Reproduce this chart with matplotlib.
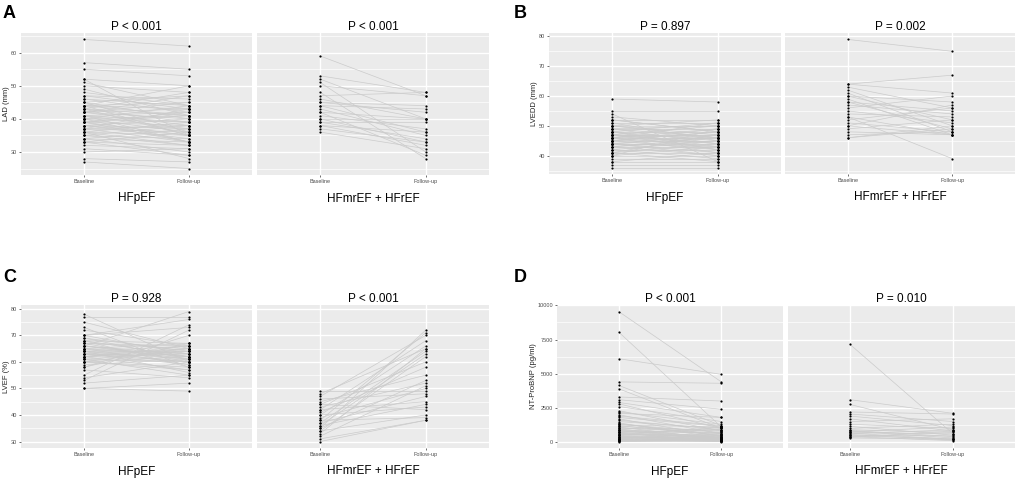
import numpy as np
import matplotlib.pyplot as plt

plt.rcParams['font.family'] = ['Liberation Sans', 'DejaVu Sans']

# ---- data ----
groups = ["HFpEF", "HFmrEF + HFrEF"]
timepoints = ["Baseline", "Follow-up"]

# A: LAD (mm)
lad_pef_base = [64, 57, 55, 52, 51, 50, 49, 47, 46, 45, 44, 44, 43, 43, 42, 42, 42, 41, 41, 40,
                40, 40, 39, 39, 39, 38, 38, 38, 37, 37, 37, 36, 36, 35, 35, 34, 34, 33, 33, 32,
                31, 30, 28, 27, 45, 44, 43, 42, 41, 40, 39, 38, 37, 36, 35, 34, 45, 46, 48, 44,
                43, 41, 40, 39, 42, 44, 36, 33, 47, 52]
lad_pef_follow = [62, 55, 53, 50, 44, 48, 41, 46, 42, 40, 50, 43, 39, 41, 38, 45, 40, 37, 42, 39,
                  36, 44, 38, 35, 41, 37, 34, 40, 36, 33, 43, 35, 32, 34, 38, 33, 30, 32, 36, 31,
                  29, 31, 27, 25, 47, 45, 48, 43, 39, 41, 42, 35, 38, 39, 32, 37, 36, 44, 44, 35,
                  35, 33, 33, 33, 47, 41, 28, 29, 43, 35]
lad_ref_base = [59, 53, 52, 51, 50, 47, 46, 45, 44, 44, 43, 42, 41, 40, 40, 39, 39, 38, 38, 37,
                36, 48, 42, 45]
lad_ref_follow = [47, 48, 40, 30, 47, 48, 40, 44, 43, 36, 35, 40, 37, 40, 33, 39, 34, 32, 36, 33,
                  31, 28, 29, 42]

# B: LVEDD (mm)
lvedd_pef_base = [59, 55, 54, 52, 52, 51, 51, 50, 50, 50, 49, 49, 49, 48, 48, 48, 48, 47, 47, 47,
                  47, 46, 46, 46, 46, 46, 45, 45, 45, 45, 44, 44, 44, 44, 43, 43, 43, 42, 42, 42,
                  41, 41, 41, 40, 40, 39, 38, 38, 37, 36, 53, 52, 50, 49, 47, 46, 45, 44, 43, 41,
                  40, 48, 47, 45, 44]
lvedd_pef_follow = [58, 55, 38, 52, 48, 51, 45, 50, 47, 52, 49, 44, 46, 48, 51, 45, 42, 47, 50, 44,
                    46, 46, 49, 43, 41, 47, 45, 48, 42, 46, 44, 47, 41, 43, 43, 46, 40, 42, 45, 39,
                    41, 44, 38, 40, 43, 39, 38, 41, 37, 36, 50, 48, 46, 50, 42, 51, 49, 40, 45, 47,
                    49, 43, 44, 48, 46]
lvedd_ref_base = [79, 64, 64, 63, 62, 61, 60, 60, 59, 58, 58, 57, 56, 55, 54, 53, 53, 52, 51, 50,
                  50, 49, 48, 47, 46, 46]
lvedd_ref_follow = [75, 67, 61, 56, 50, 48, 52, 58, 47, 55, 49, 54, 60, 51, 53, 47, 39, 56, 48, 47,
                    57, 52, 47, 48, 50, 49]

# C: LVEF (%)
lvef_pef_base = [78, 77, 75, 73, 72, 70, 70, 69, 68, 68, 67, 67, 66, 66, 66, 65, 65, 65, 64, 64,
                 64, 64, 63, 63, 63, 62, 62, 62, 61, 61, 61, 60, 60, 60, 59, 58, 57, 55, 54, 53,
                 52, 50, 50, 69, 67, 65, 63, 62, 60, 58, 66, 64, 62, 68, 70]
lvef_pef_follow = [60, 77, 65, 58, 66, 63, 76, 64, 62, 67, 60, 65, 79, 63, 61, 67, 62, 59, 66, 64,
                   61, 56, 65, 62, 60, 66, 63, 57, 64, 60, 55, 65, 62, 58, 61, 67, 54, 74, 60, 72,
                   55, 49, 52, 61, 66, 63, 59, 64, 57, 70, 62, 60, 65, 58, 73]
lvef_ref_base = [49, 48, 47, 46, 45, 44, 44, 43, 42, 42, 41, 40, 40, 39, 38, 38, 37, 37, 36, 36,
                 35, 35, 34, 34, 33, 32, 31, 30]
lvef_ref_follow = [49, 65, 70, 48, 55, 60, 42, 52, 68, 45, 58, 66, 43, 50, 71, 39, 64, 47, 63, 44,
                   72, 53, 62, 40, 65, 51, 38, 38]

# D: NT-ProBNP (pg/ml)
bnp_pef_base = [9550, 8050, 6100, 4400, 4150, 3900, 3300, 3100, 2900, 2800, 2600, 2300, 2100, 2000,
                1900, 1700, 1600, 1500, 1400, 1300, 1200, 1100, 1000, 950, 900, 850, 800, 750, 700,
                650, 600, 550, 500, 450, 400, 350, 300, 250, 200, 150, 100, 80, 1800, 1250, 1050,
                700, 500, 300, 200, 120, 1350, 1150, 900, 600, 400, 250, 180, 60, 40, 2200]
bnp_pef_follow = [4400, 1100, 4950, 4300, 1200, 1000, 3000, 2400, 1800, 1000, 1500, 800, 1800, 600,
                  1200, 400, 900, 1000, 300, 700, 500, 200, 900, 300, 600, 150, 400, 700, 250, 100,
                  500, 350, 200, 100, 300, 150, 250, 100, 180, 80, 120, 60, 1150, 1100, 650, 900,
                  1100, 600, 450, 300, 450, 800, 200, 350, 120, 500, 40, 200, 100, 1300]
bnp_ref_base = [7150, 3100, 2750, 2200, 2050, 1900, 1700, 1500, 1300, 1150, 1000, 900, 850, 800,
                750, 700, 650, 600, 550, 500, 450, 400, 350, 300]
bnp_ref_follow = [600, 2100, 900, 2050, 1500, 1200, 800, 1700, 1000, 500, 1300, 700, 400, 300,
                  1100, 600, 200, 900, 150, 450, 250, 100, 800, 200]

# ---- figure ----
W, H = 1021, 479
fig = plt.figure(figsize=(W / 100, H / 100), dpi=100)
fig.patch.set_facecolor('white')


def px_axes(x0, x1, y0, y1):
    return fig.add_axes([x0 / W, 1 - y1 / H, (x1 - x0) / W, (y1 - y0) / H])


def draw_panel(letter, lx, ly, boxes, top, bottom, data, pvals, yticks, yminor, ylabel):
    allv = [v for pair in data for s in pair for v in s]
    lo, hi = min(allv), max(allv)
    pad = 0.05 * (hi - lo)
    for i, ((x0, x1), (base, follow)) in enumerate(zip(boxes, data)):
        ax = px_axes(x0, x1, top, bottom)
        ax.set_facecolor('#ebebeb')
        for s in ax.spines.values():
            s.set_visible(False)
        ax.set_xlim(0.4, 2.6)
        ax.set_ylim(lo - pad, hi + pad)
        for y in yminor:
            ax.axhline(y, color='white', lw=0.5, zorder=0)
        for y in yticks:
            ax.axhline(y, color='white', lw=1.0, zorder=0)
        for x in (1, 2):
            ax.axvline(x, color='white', lw=1.0, zorder=0)
        for b, f in zip(base, follow):
            ax.plot([1, 2], [b, f], color='#cbcbcb', lw=0.5, zorder=2)
        ax.scatter([1] * len(base), base, s=2.5, c='black', zorder=3, linewidths=0)
        ax.scatter([2] * len(follow), follow, s=2.5, c='black', zorder=3, linewidths=0)
        ax.set_xticks([1, 2])
        ax.set_xticklabels(timepoints)
        ax.set_yticks(yticks)
        ax.tick_params(axis='both', length=1.5, width=0.5, color='#333333',
                       labelsize=4, labelcolor='#4d4d4d', pad=1.5)
        if i == 0:
            ax.set_yticklabels([f"{t:g}" for t in yticks])
            ax.set_ylabel(ylabel, fontsize=5.5, color='#222222', labelpad=0.5)
        else:
            ax.tick_params(axis='y', left=False, labelleft=False)
        ax.set_title(pvals[i], fontsize=8.5, pad=2.5)
        ax.set_xlabel(groups[i], fontsize=8.5, labelpad=6)
    fig.text(lx / W, 1 - ly / H, letter, fontsize=13, fontweight='bold',
             ha='left', va='center')


draw_panel("A", 3, 13, [(21, 252), (257, 489)], 33, 175,
           [(lad_pef_base, lad_pef_follow), (lad_ref_base, lad_ref_follow)],
           ["P < 0.001", "P < 0.001"], [30, 40, 50, 60], [25, 35, 45, 55, 65], "LAD (mm)")
draw_panel("B", 514, 13, [(549, 781), (785, 1015)], 33, 174,
           [(lvedd_pef_base, lvedd_pef_follow), (lvedd_ref_base, lvedd_ref_follow)],
           ["P = 0.897", "P = 0.002"], [40, 50, 60, 70, 80], [35, 45, 55, 65, 75], "LVEDD (mm)")
draw_panel("C", 3, 278, [(21, 252), (257, 489)], 305, 448,
           [(lvef_pef_base, lvef_pef_follow), (lvef_ref_base, lvef_ref_follow)],
           ["P = 0.928", "P < 0.001"], [30, 40, 50, 60, 70, 80], [35, 45, 55, 65, 75], "LVEF (%)")
draw_panel("D", 514, 278, [(557, 783), (788, 1015)], 305, 448,
           [(bnp_pef_base, bnp_pef_follow), (bnp_ref_base, bnp_ref_follow)],
           ["P < 0.001", "P = 0.010"], [0, 2500, 5000, 7500, 10000], [1250, 3750, 6250, 8750],
           "NT-ProBNP (pg/ml)")

fig.savefig("out.png", dpi=100, facecolor='white')
